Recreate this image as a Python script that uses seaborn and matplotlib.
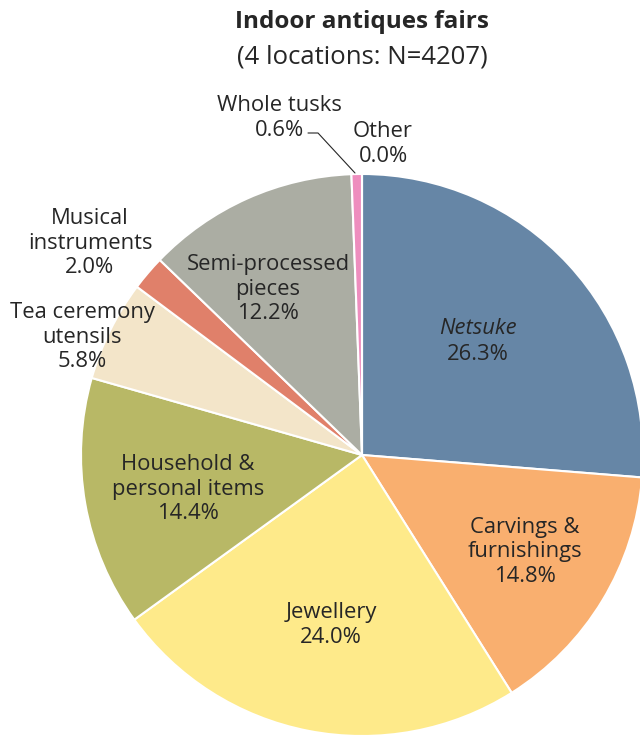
import matplotlib
matplotlib.use("Agg")
import matplotlib.pyplot as plt
import seaborn as sns

# Data
categories = ["Netsuke", "Carvings & furnishings", "Jewellery", "Household & personal items",
              "Tea ceremony utensils", "Musical instruments", "Semi-processed pieces",
              "Whole tusks", "Other"]
shares = [26.3, 14.8, 24.0, 14.4, 5.8, 2.0, 12.2, 0.6, 0.0]
label_text = ["Netsuke", "Carvings &\nfurnishings", "Jewellery", "Household &\npersonal items",
              "Tea ceremony\nutensils", "Musical\ninstruments", "Semi-processed\npieces",
              "Whole tusks", "Other"]
colors = ["#6686A6", "#F9AF6F", "#FEEA8A", "#B8B866", "#F3E5C9",
          "#E0806A", "#ABADA3", "#EE8DBE", "#D9D9D9"]

sns.set_theme(style="white")
plt.rcParams["font.family"] = ["Open Sans", "DejaVu Sans"]
TXT = "#262626"
FS = 15.8

W, H = 640, 735
fig = plt.figure(figsize=(W / 100, H / 100), dpi=100)
ax = fig.add_axes([0, 0, 1, 1])


def py(y):
    # pixel row (top-down) -> data y
    return H - y


ax.pie(shares, colors=colors, startangle=90, counterclock=False,
       center=(362, py(455)), radius=281,
       wedgeprops=dict(edgecolor="white", linewidth=1.5))
ax.set_xlim(0, W)
ax.set_ylim(0, H)
ax.set_aspect("equal")
ax.axis("off")

# label positions (pixel centres)
label_pos = [(478, 341), (525, 552), (331, 625), (188, 489), (82, 337),
             (90, 243), (268, 289), (279, 118), (383, 144)]

for i, (name, val) in enumerate(zip(label_text, shares)):
    x, y = label_pos[i]
    if i == 0:
        # italic species name
        ax.text(x, py(y - 13), name, ha="center", va="center", fontsize=FS,
                style="italic", color=TXT)
        ax.text(x, py(y + 13), f"{val:.1f}%", ha="center", va="center",
                fontsize=FS, color=TXT)
        continue
    ax.text(x, py(y), f"{name}\n{val:.1f}%", ha="center", va="center",
            fontsize=FS, color=TXT, linespacing=1.2, multialignment="center")

# leader line for whole tusks
ax.plot([308, 318, 355], [py(133), py(133), py(173)], color=TXT, lw=0.8)

fig.text(362 / W, 1 - 22 / H, "Indoor antiques fairs", ha="center", va="center",
         fontsize=17.5, fontweight="bold", color=TXT)
fig.text(362 / W, 1 - 57 / H, "(4 locations: N=4207)", ha="center", va="center",
         fontsize=18.5, color=TXT)

fig.savefig("out.png", dpi=100, facecolor="white")
